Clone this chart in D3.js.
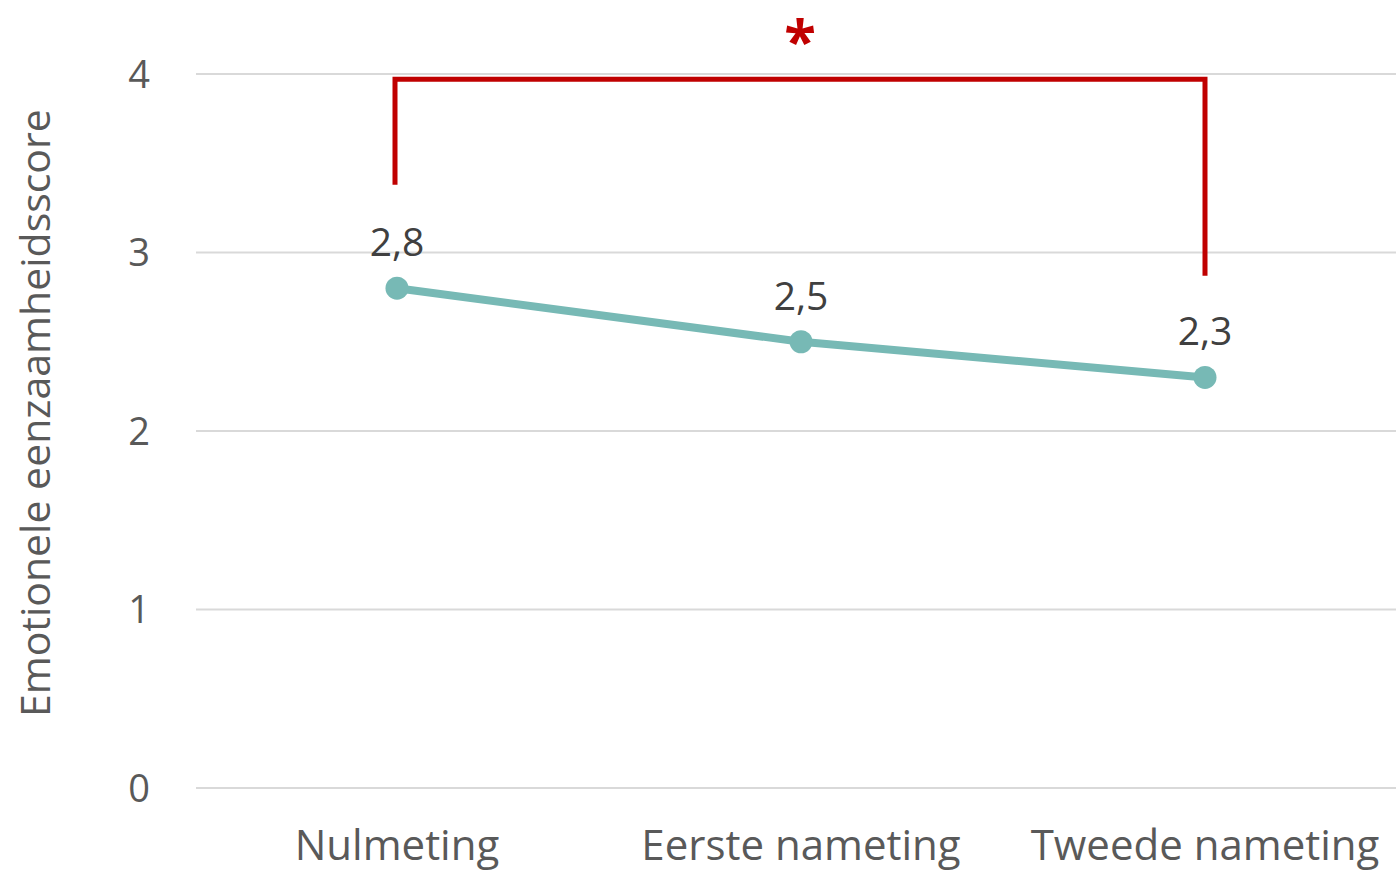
<!DOCTYPE html>
<html><head><meta charset="utf-8">
<script src="https://cdn.jsdelivr.net/npm/d3@7"></script>
<style>body{margin:0;background:#fff;} svg{display:block;} text{font-family:"Open Sans","Noto Sans",sans-serif;}</style>
</head><body>
<svg id="c" width="1396" height="873"></svg>
<script>
const categories = ["Nulmeting", "Eerste nameting", "Tweede nameting"];
const values = [2.8, 2.5, 2.3];
const valueLabels = ["2,8", "2,5", "2,3"];
const yTicks = [0, 1, 2, 3, 4];
const yTitle = "Emotionele eenzaamheidsscore";
// significance bracket: from category 0 to category 2, leg bottoms in data units
const bracketCats = ["Nulmeting", "Tweede nameting"];
const bracketTop = 3.97;
const bracketLegEnds = [3.38, 2.87];
const sigLabel = "*";

const svg = d3.select("#c");
const x = d3.scaleBand().domain(categories).range([195, 1407]);
const y = d3.scaleLinear().domain([0, 4]).range([788, 74]);
const cx = d => x(d) + x.bandwidth() / 2;

// gridlines
svg.append("g").selectAll("line").data(yTicks).join("line")
  .attr("x1", 196).attr("x2", 1396)
  .attr("y1", d => y(d)).attr("y2", d => y(d))
  .attr("stroke", "#d9d9d9").attr("stroke-width", 2);

// y tick labels
svg.append("g").selectAll("text").data(yTicks).join("text")
  .attr("x", 150).attr("y", d => y(d)).attr("dy", "0.36em")
  .attr("text-anchor", "end").attr("fill", "#595959").attr("font-size", 38)
  .text(d => d);

// x labels
svg.append("g").selectAll("text").data(categories).join("text")
  .attr("x", d => cx(d)).attr("y", 860)
  .attr("text-anchor", "middle").attr("fill", "#595959").attr("font-size", 42)
  .text(d => d);

// y title
svg.append("text").attr("transform", `translate(50,${y(2.1)}) rotate(-90)`)
  .attr("text-anchor", "middle").attr("fill", "#595959").attr("font-size", 41)
  .text(yTitle);

// line
const pts = categories.map((c, i) => [cx(c), y(values[i])]);
svg.append("path").attr("d", d3.line()(pts)).attr("fill", "none")
  .attr("stroke", "#77b9b5").attr("stroke-width", 8).attr("stroke-linejoin", "round");
svg.append("g").selectAll("circle").data(pts).join("circle")
  .attr("cx", d => d[0]).attr("cy", d => d[1]).attr("r", 11.5).attr("fill", "#77b9b5");

// data labels
svg.append("g").selectAll("text").data(categories).join("text")
  .attr("x", d => cx(d)).attr("y", (d, i) => y(values[i]) - 32)
  .attr("text-anchor", "middle").attr("fill", "#404040").attr("font-size", 39)
  .text((d, i) => valueLabels[i]);

// bracket
const bx0 = cx(bracketCats[0]) - 2, bx1 = cx(bracketCats[1]);
svg.append("path")
  .attr("d", `M${bx0},${y(bracketLegEnds[0])}V${y(bracketTop)}H${bx1}V${y(bracketLegEnds[1])}`)
  .attr("fill", "none").attr("stroke", "#c00000").attr("stroke-width", 5);
svg.append("text").attr("x", (bx0 + bx1) / 2).attr("y", 62)
  .attr("text-anchor", "middle").attr("fill", "#c00000").attr("font-size", 58).attr("font-weight", "bold")
  .text(sigLabel);
</script>
</body></html>
